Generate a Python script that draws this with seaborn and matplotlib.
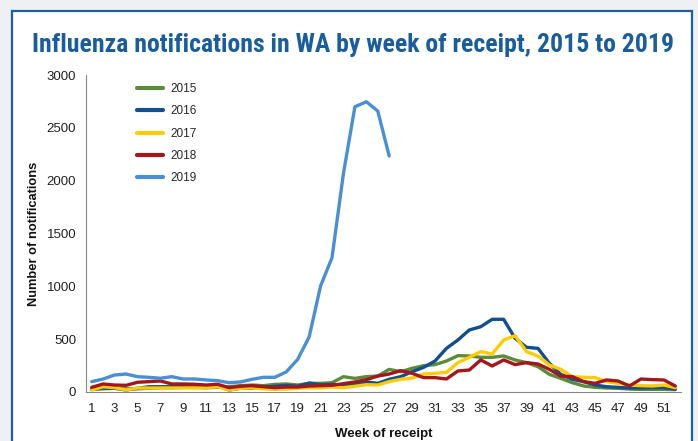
import matplotlib
matplotlib.use("Agg")
import matplotlib.pyplot as plt
from matplotlib.patches import Rectangle
from matplotlib.ticker import FixedLocator, NullFormatter
from matplotlib import font_manager
import seaborn as sns
import pandas as pd
import numpy as np

weeks = list(range(1, 53))
y2015 = [25, 30, 35, 30, 30, 35, 40, 40, 45, 45, 40, 45, 50, 60, 66, 60,
         72, 76, 66, 82, 82, 88, 145, 129, 145, 151,
         214, 192, 224, 249, 259, 293, 344, 341, 328, 328, 341, 303, 278, 240,
         167, 129, 88, 57, 44, 38, 35, 28, 25, 25, 25, 22]
y2016 = [25, 38, 35, 19, 35, 50, 50, 50, 57, 44, 50, 57, 19, 35, 35, 44,
         54, 63, 54, 85, 69, 72, 63, 69, 95, 82,
         120, 145, 192, 233, 293, 413, 492, 587, 618, 688, 688, 508, 423, 413,
         271, 167, 120, 98, 66, 50, 44, 38, 38, 41, 41, 28]
y2017 = [19, 50, 41, 19, 38, 38, 38, 38, 38, 38, 41, 50, 19, 35, 38, 30,
         25, 28, 35, 41, 38, 47, 41, 54, 69, 66,
         98, 120, 132, 170, 177, 186, 278, 328, 382, 360, 492, 533, 382, 341,
         255, 214, 145, 139, 136, 98, 82, 66, 60, 57, 66, 41]
y2018 = [44, 76, 66, 63, 92, 98, 104, 76, 76, 73, 66, 73, 41, 54, 60, 50,
         41, 47, 47, 57, 60, 63, 79, 95, 117, 151,
         170, 202, 177, 136, 136, 123, 199, 208, 303, 246, 303, 259, 278, 265,
         214, 151, 145, 98, 82, 114, 104, 57, 123, 117, 114, 57]
y2019 = [98, 123, 161, 170, 145, 139, 130, 145, 123, 123, 114, 107, 88, 95,
         120, 139, 139, 190, 309, 520, 1003, 1271, 2069, 2699, 2747, 2659, 2233]

years = ["2015", "2016", "2017", "2018", "2019"]
series = [y2015, y2016, y2017, y2018, y2019]
colors = ["#5b8c3a", "#134f8e", "#ffcc00", "#a3171c", "#4a8fd5"]

rows = []
for yr, vals in zip(years, series):
    for w, v in zip(weeks, vals):
        rows.append({"week": w, "count": v, "year": yr})
df = pd.DataFrame(rows)

sns.set_style("white")
plt.rcParams["font.family"] = ["Liberation Sans", "DejaVu Sans"]

W, H = 698, 441
fig = plt.figure(figsize=(W / 100, H / 100), dpi=100)
fig.patch.set_facecolor("#eef0f3")

frame = Rectangle((12 / W, -0.1), (692 - 12) / W, 1.1 - 11 / H,
                  transform=fig.transFigure, facecolor="white",
                  edgecolor="#1c5fa5", linewidth=1.6, zorder=-5)
fig.patches.append(frame)

# choose a narrow font if available
avail = {f.name for f in font_manager.fontManager.ttflist}
title_family = None
for cand in ["Liberation Sans Narrow", "Roboto Condensed", "DejaVu Sans Condensed",
             "Open Sans Condensed", "Liberation Sans"]:
    if cand in avail:
        title_family = cand
        break
if title_family is None:
    title_family = "DejaVu Sans"

title = fig.text(0.506, 1 - 45 / H,
                 "Influenza notifications in WA by week of receipt, 2015 to 2019",
                 ha="center", va="center", color="#1a5d9e", fontweight="bold",
                 fontsize=20.5, family=[title_family, "DejaVu Sans"])
fig.canvas.draw()
bb = title.get_window_extent()
target = 646.0
if bb.width > target:
    title.set_fontsize(20.5 * target / bb.width)

ax = fig.add_axes([86 / W, 1 - 392 / H, (681 - 86) / W, (392 - 75) / H])
ax.set_facecolor("none")
ax.set_zorder(2)

sns.lineplot(data=df, x="week", y="count", hue="year", palette=colors,
             linewidth=2.4, ax=ax, legend=True)

ax.set_xlim(0.5, 52.5)
ax.set_ylim(0, 3000)
ax.set_yticks([0, 500, 1000, 1500, 2000, 2500, 3000])
ax.set_xticks(list(range(1, 53, 2)))
ax.xaxis.set_minor_locator(FixedLocator(np.arange(0.5, 53, 1.0)))
ax.tick_params(axis="x", which="major", length=0, pad=8, labelsize=9.5, labelcolor="#222222")
ax.tick_params(axis="x", which="minor", length=5, width=0.8, color="#888888", direction="out")
ax.tick_params(axis="y", which="major", length=4, width=0.8, color="#888888",
               direction="out", pad=3, labelsize=9.5, labelcolor="#222222")
ax.xaxis.set_minor_formatter(NullFormatter())

for s in ["top", "right"]:
    ax.spines[s].set_visible(False)
for s in ["left", "bottom"]:
    ax.spines[s].set_color("#888888")
    ax.spines[s].set_linewidth(0.8)

ax.set_xlabel("Week of receipt", fontsize=9.5, fontweight="bold", color="#111111")
ax.set_ylabel("Number of notifications", fontsize=9.3, fontweight="bold", color="#111111")
ax.xaxis.set_label_coords(0.50, -0.114)
ax.yaxis.set_label_coords(-0.078, 0.50)
ax.grid(False)

leg = ax.legend(loc="upper left", bbox_to_anchor=(0.086, 0.975), frameon=False,
                fontsize=8.5, handlelength=2.2, handletextpad=0.6,
                labelspacing=0.88, borderpad=0, borderaxespad=0, title=None)
for line in leg.get_lines():
    line.set_linewidth(3)

fig.savefig("out.png", dpi=100, facecolor=fig.get_facecolor())
